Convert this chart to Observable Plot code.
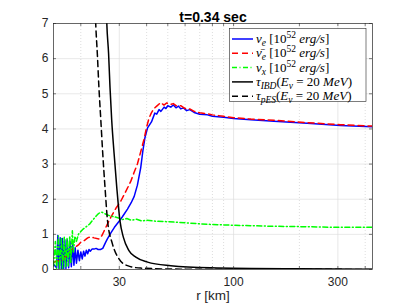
<!DOCTYPE html>
<html>
<head>
<meta charset="utf-8">
<script src="https://cdn.jsdelivr.net/npm/d3@7"></script>
<script src="https://cdn.jsdelivr.net/npm/@observablehq/plot@0.6"></script>
<style>
  html, body { margin: 0; padding: 0; background: #fff; }
  #chart svg { display: block; }
</style>
</head>
<body>
<div id="chart"></div>
<script>
// ---- data ----
const blueR = [15.0,15.5,15.7,15.9,16.1,16.3,16.5,16.7,16.9,17.1,17.35,17.6,17.85,18.1,18.35,18.6,18.85,19.1,19.4,19.7,20.0,20.3,20.6,20.9,21.2,21.5,21.8,22.1,22.5,23.0,23.5,24.0,24.6,25.2,26.0,26.5,27.5,28.5,30.0,31.0,32.7,34.0,35.1,36.3,37.6,38.5,39.3,40.4,42.1,43.6,44.5,45.6,46.5,48.1,49,50,51.6,53,54.5,56,57.3,59,61,63,66,70,75.9,80,90,100,120,153,217,308,432];
const blueV = [0.15,0.05,0.97,0.02,0.9,0.02,0.88,0.03,0.85,0.03,0.85,0.05,0.8,0.08,0.75,0.12,0.62,0.18,0.55,0.25,0.5,0.3,0.52,0.38,0.55,0.45,0.57,0.52,0.58,0.58,0.6,0.57,0.57,0.6,0.78,0.88,1.05,1.2,1.38,1.5,1.72,1.9,2.08,2.4,2.9,3.4,3.75,4.03,4.2,4.45,4.42,4.55,4.5,4.62,4.58,4.66,4.62,4.68,4.6,4.65,4.57,4.6,4.52,4.55,4.47,4.42,4.4,4.36,4.33,4.3,4.26,4.22,4.16,4.1,4.06];

const redR = [15.0,15.6,16.2,16.8,17.4,18.0,18.5,19.0,19.5,20.0,20.5,21.0,21.5,22.2,23.0,24.2,25.0,25.5,26.5,27.5,29.0,30.5,32.0,33.8,35.0,36.3,37.6,38.9,40.0,41.0,42.0,43.2,44.5,46.4,48,49.5,51.6,53,55,57.3,60,63,66,70,76,80,90,100,120,153,217,308,432];
const redV = [0.2,0.25,0.22,0.33,0.42,0.55,0.6,0.65,0.7,0.78,0.8,0.85,0.9,0.93,0.9,0.87,0.97,1.08,1.3,1.5,1.75,1.95,2.2,2.5,2.75,3.0,3.35,3.7,4.05,4.3,4.45,4.58,4.65,4.75,4.68,4.74,4.7,4.72,4.65,4.66,4.58,4.57,4.5,4.46,4.43,4.4,4.36,4.32,4.28,4.25,4.18,4.12,4.08];

const greenR = [15.0,15.3,15.5,15.8,16.0,16.3,16.5,16.8,17.0,17.3,17.5,17.8,18.0,18.3,18.5,18.8,19.1,19.5,20.0,20.5,21.0,21.5,22.0,22.5,23.0,23.5,24.0,24.5,25.0,25.5,26.5,27.5,28.5,30,31,32.5,34,36,38,40,45,50,60,70,80,100,150,200,300,432];
const greenV = [0.1,0.8,0.02,0.95,0.02,0.9,0.03,0.92,0.05,0.9,0.1,0.95,0.2,1.1,0.5,0.95,0.8,1.0,1.08,1.15,1.2,1.25,1.3,1.38,1.45,1.52,1.58,1.62,1.63,1.6,1.55,1.52,1.5,1.46,1.42,1.45,1.4,1.43,1.38,1.4,1.37,1.36,1.33,1.3,1.28,1.26,1.23,1.22,1.2,1.2];

const ibdR = [25.9,26.3,26.8,27.2,27.7,28.4,29.2,30.2,31.3,33.2,35.7,40.4,51.6,78.5,202,432];
const ibdV = [8.5,7.0,6.14,5.19,4.24,3.3,2.35,1.39,0.92,0.54,0.35,0.21,0.11,0.05,0.02,0.01];

const pesR = [23.0,23.4,23.8,24.2,24.7,25.2,25.8,26.5,27.9,29.9,32.7,37.6,57.3,432];
const pesV = [8.5,7.0,6.14,5.19,4.24,3.3,2.35,1.39,0.73,0.3,0.11,0.04,0.01,0.003];

const xTickLabels = [30, 100, 300];
const xMinorTicks = [20, 40, 50, 60, 70, 80, 90, 200, 400];
const yTickValues = [0, 1, 2, 3, 4, 5, 6, 7];
const titleText = "t=0.34 sec";
const xLabelText = "r [km]";

const legendRows = [
  {stroke: "#0000ff", dash: null, parts: [["ν","i"],["e","sub"],[" [10","n"],["52","sup"],[" ","n"],["erg/s","i"],["]","n"]]},
  {stroke: "#ff0000", dash: "6,4", parts: [["ν̄","i"],["e","sub"],[" [10","n"],["52","sup"],[" ","n"],["erg/s","i"],["]","n"]]},
  {stroke: "#00ff00", dash: "5,2.5,1,2.5", parts: [["ν","i"],["x","sub"],[" [10","n"],["52","sup"],[" ","n"],["erg/s","i"],["]","n"]]},
  {stroke: "#000000", dash: null, parts: [["τ","i"],["IBD","sub"],["(","n"],["E","i"],["ν","sub"],[" = 20 ","n"],["MeV","i"],[")","n"]]},
  {stroke: "#000000", dash: "6,4", parts: [["τ","i"],["pES","sub"],["(","n"],["E","i"],["ν","sub"],[" = 20 ","n"],["MeV","i"],[")","n"]]}
];

const toRows = (R, V) => R.map((r, i) => ({r, v: V[i]}));
const axisColor = "#262626";
const gridColor = "#dedede";

const plot = Plot.plot({
  width: 411,
  height: 308,
  marginLeft: 53,
  marginRight: 39,
  marginTop: 23,
  marginBottom: 39,
  style: {background: "#fff", fontFamily: "'Liberation Sans', Arial, sans-serif"},
  x: {type: "log", domain: [15, 432]},
  y: {domain: [0, 7]},
  marks: [
    Plot.ruleY(yTickValues.slice(1, 7), {stroke: gridColor, strokeWidth: 0.7}),
    Plot.ruleX(xTickLabels, {stroke: gridColor, strokeWidth: 0.7}),
    Plot.ruleX(xMinorTicks, {stroke: "#d0d0d0", strokeWidth: 0.7, strokeDasharray: "1,2"}),
    Plot.line(toRows(blueR, blueV), {x: "r", y: "v", stroke: "#0000ff", strokeWidth: 1.5, clip: true}),
    Plot.line(toRows(redR, redV), {x: "r", y: "v", stroke: "#ff0000", strokeWidth: 1.5, strokeDasharray: "6,4", clip: true}),
    Plot.line(toRows(greenR, greenV), {x: "r", y: "v", stroke: "#00ff00", strokeWidth: 1.5, strokeDasharray: "5,2.5,1,2.5", clip: true}),
    Plot.line(toRows(ibdR, ibdV), {x: "r", y: "v", stroke: "#000", strokeWidth: 1.5, curve: "monotone-x", clip: true}),
    Plot.line(toRows(pesR, pesV), {x: "r", y: "v", stroke: "#000", strokeWidth: 1.5, strokeDasharray: "6,4", curve: "monotone-x", clip: true}),
    Plot.tickX([...xTickLabels, ...xMinorTicks], {x: d => d, insetTop: 243, stroke: axisColor, strokeWidth: 0.6}),
    Plot.tickX([...xTickLabels, ...xMinorTicks], {x: d => d, insetBottom: 243, stroke: axisColor, strokeWidth: 0.6}),
    Plot.tickY(yTickValues, {y: d => d, insetRight: 316, stroke: axisColor, strokeWidth: 0.6}),
    Plot.tickY(yTickValues, {y: d => d, insetLeft: 316, stroke: axisColor, strokeWidth: 0.6}),
    Plot.frame({stroke: axisColor, strokeWidth: 0.7}),
    Plot.axisX({ticks: xTickLabels, tickFormat: d => String(d), tickSize: 0, tickPadding: 8, fontSize: 12, fill: axisColor, label: null}),
    Plot.axisY({ticks: yTickValues, tickFormat: d => String(d), tickSize: 0, tickPadding: 5, fontSize: 12, fill: axisColor, label: null}),
    Plot.text([titleText], {frameAnchor: "top", dy: -11.5, text: d => d, fontSize: 14, fontWeight: "bold", fill: "#000"}),
    Plot.text([xLabelText], {frameAnchor: "bottom", dy: 30, text: d => d, fontSize: 13.5, fill: axisColor})
  ]
});

// ---- legend ----
const svg = d3.select(plot);
const lg = svg.append("g").attr("text-anchor", "start");
lg.append("rect")
  .attr("x", 229.5).attr("y", 28.5).attr("width", 136.5).attr("height", 73)
  .attr("fill", "#fff").attr("stroke", axisColor).attr("stroke-width", 0.6);
legendRows.forEach((row, i) => {
  const cy = 39 + i * 14.3;
  lg.append("line")
    .attr("x1", 232).attr("x2", 253).attr("y1", cy).attr("y2", cy)
    .attr("stroke", row.stroke).attr("stroke-width", 1.5)
    .attr("stroke-dasharray", row.dash);
  const t = lg.append("text")
    .attr("x", 256).attr("y", cy + 4)
    .attr("text-anchor", "start")
    .attr("font-family", "'Liberation Serif', 'Times New Roman', serif")
    .attr("font-size", 13).attr("fill", "#000")
    .style("white-space", "pre");
  let off = 0;
  row.parts.forEach(([s, kind]) => {
    const ts = t.append("tspan").text(s).style("white-space", "pre");
    let target = 0;
    if (kind === "sub") target = 3;
    if (kind === "sup") target = -5;
    ts.attr("dy", target - off);
    off = target;
    if (kind === "sub" || kind === "sup") ts.attr("font-size", 9.5);
    if (kind === "i" || kind === "sub") ts.attr("font-style", "italic");
  });
});

document.getElementById("chart").appendChild(plot);
</script>
</body>
</html>
